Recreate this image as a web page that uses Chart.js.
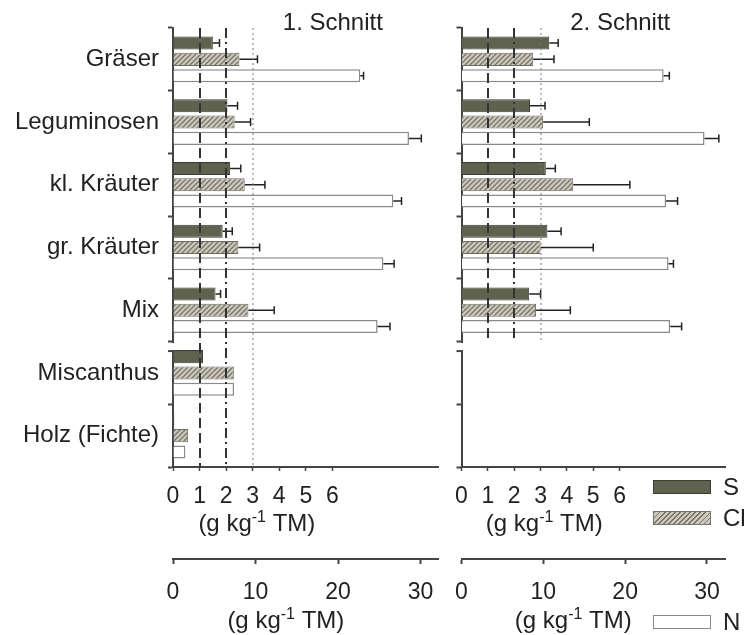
<!DOCTYPE html>
<html lang="de">
<head>
<meta charset="UTF-8">
<title>S, Cl und N – 1. und 2. Schnitt</title>
<script src="https://cdn.jsdelivr.net/npm/chart.js"></script>
<style>
  body { margin: 0; background: #fff; font-family: Arial, "Liberation Sans", sans-serif; color: #222; }
  #wrap { position: relative; width: 754px; height: 635px; }
  #c1 { position: absolute; left: 0; top: 0; }
  #c2 { position: absolute; left: 440px; top: 0; }
  .key { position: absolute; left: 653px; width: 58px; height: 14px; box-sizing: border-box; }
  .keytxt { position: absolute; left: 723px; font-size: 24px; line-height: 24px; }
</style>
</head>
<body>
<div id="wrap">
  <canvas id="c1" width="449" height="635"></canvas>
  <canvas id="c2" width="314" height="635"></canvas>

  <div class="key" style="top:480px;background:#5f624f;border:1.5px solid #3a3b32"></div>
  <div class="keytxt" style="top:475px">S</div>
  <div class="key" style="top:511px;border:1px solid #77746a;background:repeating-linear-gradient(135deg,#77746a 0 1.3px,#cdc9bd 1.3px 3.6px)"></div>
  <div class="keytxt" style="top:506px">Cl</div>
  <div class="key" style="top:615px;background:#fff;border:1.5px solid #8a8a8a"></div>
  <div class="keytxt" style="top:610px">N</div>
</div>

<script>
// ---- data (g kg-1 TM) ----
const categories = ['Gräser', 'Leguminosen', 'kl. Kräuter', 'gr. Kräuter', 'Mix', 'Miscanthus', 'Holz (Fichte)'];

// 1. Schnitt
const s1     = [1.50, 2.05, 2.15, 1.87, 1.60, 1.13, 0.05];
const s1Err  = [0.25, 0.38, 0.40, 0.36, 0.19, 0, 0];
const cl1    = [2.50, 2.32, 2.70, 2.46, 2.84, 2.29, 0.57];
const cl1Err = [0.68, 0.60, 0.76, 0.80, 0.97, 0, 0];
const n1     = [22.7, 28.6, 26.7, 25.5, 24.8, 7.4, 1.5];
const n1Err  = [0.4, 1.5, 1.0, 1.3, 1.5, 0, 0];

// 2. Schnitt (no Miscanthus / Holz)
const s2     = [3.33, 2.60, 3.20, 3.26, 2.57, null, null];
const s2Err  = [0.34, 0.57, 0.36, 0.52, 0.43, 0, 0];
const cl2    = [2.72, 3.10, 4.24, 3.00, 2.83, null, null];
const cl2Err = [0.79, 1.75, 2.15, 2.00, 1.30, 0, 0];
const n2     = [24.7, 29.7, 25.0, 25.3, 25.5, null, null];
const n2Err  = [0.7, 1.75, 1.4, 0.6, 1.4, 0, 0];

// reference lines on the S/Cl scale
const refValues = [1, 2, 3];
const sTicks = [0, 1, 2, 3, 4, 5, 6];
const nTicks = [0, 10, 20, 30];

const FONT = 'Arial, "Liberation Sans", sans-serif';
Chart.defaults.font.family = FONT;
Chart.defaults.font.size = 23;
Chart.defaults.color = '#222';

const refStyles = [
  { dash: [10, 5], width: 2, color: '#333' },
  { dash: [10, 4, 2, 4], width: 2, color: '#333' },
  { dash: [2, 3], width: 1, color: '#777' }
];

function drawUnit(ctx, cx, baseline) {
  const parts = [['(g kg', 24, 0], ['-1', 16, -9], [' TM)', 24, 0]];
  let w = 0;
  parts.forEach(p => { ctx.font = p[1] + 'px ' + FONT; w += ctx.measureText(p[0]).width; });
  let x = cx - w / 2;
  ctx.textAlign = 'left';
  ctx.textBaseline = 'alphabetic';
  ctx.fillStyle = '#222';
  parts.forEach(p => {
    ctx.font = p[1] + 'px ' + FONT;
    ctx.fillText(p[0], x, baseline + p[2]);
    x += ctx.measureText(p[0]).width;
  });
}

const panelPlugin = {
  id: 'panel',
  afterDatasetsDraw(chart, args, opts) {
    const ctx = chart.ctx, area = chart.chartArea;
    // error bars (one-sided)
    chart.data.datasets.forEach((ds, di) => {
      const meta = chart.getDatasetMeta(di);
      const xs = chart.scales[ds.xAxisID];
      meta.data.forEach((bar, i) => {
        const v = ds.data[i], e = ds.errors[i];
        if (v == null || !e) return;
        const x1 = xs.getPixelForValue(v + e);
        ctx.save();
        ctx.strokeStyle = '#222';
        ctx.lineWidth = 1.5;
        ctx.beginPath();
        ctx.moveTo(bar.x, bar.y); ctx.lineTo(x1, bar.y);
        ctx.moveTo(x1, bar.y - 4); ctx.lineTo(x1, bar.y + 4);
        ctx.stroke();
        ctx.restore();
      });
    });
    // dashed / dotted reference lines
    const y = chart.scales.y, xS = chart.scales.xS;
    let yEnd = area.bottom;
    if (opts.refEnd != null) {
      yEnd = (y.getPixelForValue(opts.refEnd) + y.getPixelForValue(opts.refEnd + 1)) / 2;
    }
    refValues.forEach((v, k) => {
      const st = refStyles[k], x = Math.round(xS.getPixelForValue(v));
      ctx.save();
      ctx.strokeStyle = st.color;
      ctx.lineWidth = st.width;
      ctx.setLineDash(st.dash);
      ctx.beginPath();
      ctx.moveTo(x, area.top); ctx.lineTo(x, yEnd);
      ctx.stroke();
      ctx.restore();
    });
  },
  afterDraw(chart, args, opts) {
    const ctx = chart.ctx, area = chart.chartArea, y = chart.scales.y;
    const cx = (area.left + area.right) / 2;
    ctx.save();
    // break in the category axis between the two blocks
    const b = (y.getPixelForValue(opts.breakAfter) + y.getPixelForValue(opts.breakAfter + 1)) / 2;
    ctx.fillStyle = '#fff';
    ctx.fillRect(area.left - 2, b + 1.5, 4, 7);
    ctx.strokeStyle = '#444';
    ctx.lineWidth = 2;
    ctx.beginPath();
    ctx.moveTo(area.left - 5, b + 9.5); ctx.lineTo(area.left + 1, b + 9.5);
    ctx.stroke();
    // panel title
    ctx.font = '24px ' + FONT;
    ctx.fillStyle = '#222';
    ctx.textAlign = 'center';
    ctx.textBaseline = 'alphabetic';
    ctx.fillText(opts.title, cx + 27, 30);
    // axis titles
    drawUnit(ctx, cx - 49, chart.scales.xS.top + 64);
    drawUnit(ctx, cx - 20, chart.scales.xN.top + 69);
    ctx.restore();
  }
};

function makeChart(id, s, sErr, cl, clErr, n, nErr, cfg) {
  const ctx = document.getElementById(id).getContext('2d');
  const tile = document.createElement('canvas');
  tile.width = 5; tile.height = 5;
  const g = tile.getContext('2d');
  g.fillStyle = '#cdc9bd'; g.fillRect(0, 0, 5, 5);
  g.strokeStyle = '#77746a'; g.lineWidth = 1.3;
  g.beginPath();
  g.moveTo(0, 5); g.lineTo(5, 0);
  g.moveTo(-1, 1); g.lineTo(1, -1);
  g.moveTo(4, 6); g.lineTo(6, 4);
  g.stroke();
  const hatch = ctx.createPattern(tile, 'repeat');

  const common = { categoryPercentage: 0.78, barPercentage: 0.8, yAxisID: 'y' };

  return new Chart(ctx, {
    type: 'bar',
    data: {
      labels: categories,
      datasets: [
        { ...common, label: 'S', data: s, errors: sErr, xAxisID: 'xS',
          backgroundColor: '#5f624f', borderColor: '#3a3b32', borderWidth: 1 },
        { ...common, label: 'Cl', data: cl, errors: clErr, xAxisID: 'xS',
          backgroundColor: hatch, borderColor: '#6e6b60', borderWidth: 1 },
        { ...common, label: 'N', data: n, errors: nErr, xAxisID: 'xN',
          backgroundColor: '#ffffff', borderColor: '#8a8a8a', borderWidth: 1.5 }
      ]
    },
    options: {
      indexAxis: 'y',
      responsive: false,
      animation: false,
      layout: { padding: cfg.padding },
      scales: {
        y: {
          type: 'category',
          offset: true,
          grid: { offset: true, drawOnChartArea: false, tickLength: 5, tickWidth: 2, tickColor: '#444' },
          border: { color: '#444', width: 2 },
          ticks: { display: cfg.showLabels, padding: 9, font: { size: 24 }, autoSkip: false },
          afterFit: sc => { sc.width = cfg.yWidth; }
        },
        xS: {
          type: 'linear', position: 'bottom', weight: 0,
          min: 0, max: 10,
          grid: { drawOnChartArea: false, tickLength: 4, tickWidth: 1.5, tickColor: '#444' },
          border: { color: '#444', width: 2 },
          ticks: { padding: 12, autoSkip: false },
          afterBuildTicks: sc => { sc.ticks = sTicks.map(v => ({ value: v })); },
          afterFit: sc => { sc.height = 92; }
        },
        xN: {
          type: 'linear', position: 'bottom', weight: 1,
          min: 0, max: 32.2,
          grid: { drawOnChartArea: false, tickLength: 5, tickWidth: 2, tickColor: '#444' },
          border: { color: '#444', width: 2 },
          ticks: { padding: 15, autoSkip: false },
          afterBuildTicks: sc => { sc.ticks = nTicks.map(v => ({ value: v })); },
          afterFit: sc => { sc.height = 76; }
        }
      },
      plugins: {
        legend: { display: false },
        tooltip: { enabled: false },
        panel: { title: cfg.title, refEnd: cfg.refEnd, breakAfter: categories.indexOf('Mix') }
      }
    },
    plugins: [panelPlugin]
  });
}

makeChart('c1', s1, s1Err, cl1, cl1Err, n1, n1Err, {
  title: '1. Schnitt', showLabels: true, yWidth: 173, refEnd: null,
  padding: { top: 28, right: 0, left: 0, bottom: 0 }
});
makeChart('c2', s2, s2Err, cl2, cl2Err, n2, n2Err, {
  title: '2. Schnitt', showLabels: false, yWidth: 21.5, refEnd: categories.indexOf('Mix'),
  padding: { top: 28, right: 29, left: 0, bottom: 0 }
});
</script>
</body>
</html>
